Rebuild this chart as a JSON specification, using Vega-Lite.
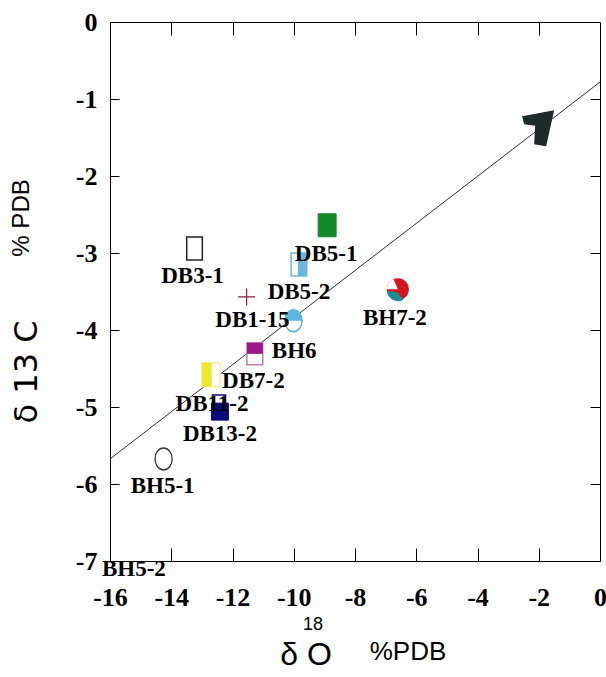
{
  "$schema": "https://vega.github.io/schema/vega-lite/v6.json",
  "width": 490,
  "height": 539,
  "autosize": "none",
  "padding": {"left": 110, "top": 22, "right": 6, "bottom": 116},
  "background": "white",
  "config": {"view": {"stroke": null}},
  "datasets": {
    "samples": [
      {"sample": "DB3-1", "d18O": -13.24, "d13C": -2.94},
      {"sample": "DB5-1", "d18O": -8.91, "d13C": -2.64},
      {"sample": "DB5-2", "d18O": -9.83, "d13C": -3.15},
      {"sample": "unlabelled", "d18O": -11.54, "d13C": -3.57},
      {"sample": "DB1-15", "d18O": -10.01, "d13C": -3.88},
      {"sample": "BH6", "d18O": -11.27, "d13C": -4.31},
      {"sample": "DB7-2", "d18O": -12.70, "d13C": -4.58},
      {"sample": "DB11-2", "d18O": -12.44, "d13C": -4.93},
      {"sample": "DB13-2", "d18O": -12.41, "d13C": -5.06},
      {"sample": "BH5-1", "d18O": -14.25, "d13C": -5.675},
      {"sample": "BH7-2", "d18O": -6.60, "d13C": -3.47},
      {"sample": "BH5-2", "d18O": -15.22, "d13C": -7.10}
    ],
    "trend": [
      {"d18O": -16, "d13C": -5.675},
      {"d18O": 0, "d13C": -0.78}
    ],
    "arrow": [
      {"d18O": -2.02, "d13C": -1.38}
    ]
  },
  "layer": [
    {
      "layer": [
        {
          "data": {"name": "trend"},
          "mark": {"type": "line", "color": "#333333", "strokeWidth": 1},
          "encoding": {
            "x": {"field": "d18O", "type": "quantitative", "scale": {"domain": [-16, 0], "nice": false, "zero": false},
              "axis": {"orient": "top", "values": [-14, -12, -10, -8, -6, -4, -2], "labels": false, "title": null, "grid": false, "tickSize": -13, "tickColor": "black", "domainColor": "black", "tickWidth": 1, "domainWidth": 1}},
            "y": {"field": "d13C", "type": "quantitative", "scale": {"domain": [-7, 0], "nice": false, "zero": false},
              "axis": {"orient": "right", "values": [-6, -5, -4, -3, -2, -1], "labels": false, "title": null, "grid": false, "tickSize": -10, "tickColor": "black", "domainColor": "black", "tickWidth": 1, "domainWidth": 1}}
          }
        },
        {
          "data": {"name": "arrow"},
          "mark": {"type": "point", "shape": "M-0.8,-0.6L0.8,-0.9L0.4,0.9L-0.2,0.8L-0.15,-0.12L-0.7,-0.2Z", "size": 1600, "filled": true, "fill": "#1d2b2b", "strokeWidth": 0, "opacity": 1},
          "encoding": {
            "x": {"field": "d18O", "type": "quantitative"},
            "y": {"field": "d13C", "type": "quantitative"}
          }
        },
        {
          "data": {"values": [{}]},
          "mark": {"type": "text", "text": "δ O", "font": "Liberation Sans", "fontSize": 32, "color": "black", "align": "center", "baseline": "middle"},
          "encoding": {"x": {"datum": -9.6, "type": "quantitative"}, "y": {"datum": -8.22, "type": "quantitative"}}
        },
        {
          "data": {"values": [{}]},
          "mark": {"type": "text", "text": "18", "font": "Liberation Sans", "fontSize": 18, "color": "black", "align": "center", "baseline": "middle"},
          "encoding": {"x": {"datum": -9.37, "type": "quantitative"}, "y": {"datum": -7.83, "type": "quantitative"}}
        },
        {
          "data": {"values": [{}]},
          "mark": {"type": "text", "text": "%PDB", "font": "Liberation Sans", "fontSize": 26, "color": "black", "align": "center", "baseline": "middle"},
          "encoding": {"x": {"datum": -6.27, "type": "quantitative"}, "y": {"datum": -8.18, "type": "quantitative"}}
        },
        {
          "data": {"values": [{}]},
          "mark": {"type": "text", "text": "δ 13 C", "font": "DejaVu Sans", "fontSize": 32, "color": "black", "align": "center", "baseline": "middle", "angle": 270},
          "encoding": {"x": {"datum": -18.71, "type": "quantitative"}, "y": {"datum": -4.545, "type": "quantitative"}}
        },
        {
          "data": {"values": [{}]},
          "mark": {"type": "text", "text": "% PDB", "font": "Liberation Sans", "fontSize": 24, "color": "black", "align": "center", "baseline": "middle", "angle": 270},
          "encoding": {"x": {"datum": -18.87, "type": "quantitative"}, "y": {"datum": -2.545, "type": "quantitative"}}
        }
      ]
    },
    {
      "data": {"name": "samples"},
      "encoding": {
        "x": {"field": "d18O", "type": "quantitative", "scale": {"domain": [-16, 0], "nice": false, "zero": false},
          "axis": {"orient": "bottom", "values": [-16, -14, -12, -10, -8, -6, -4, -2, 0], "title": null, "grid": false, "tickSize": -13, "tickColor": "black", "domainColor": "black", "tickWidth": 1, "domainWidth": 1, "labelFont": "Liberation Serif", "labelFontWeight": "bold", "labelFontSize": 26, "labelColor": "black", "labelPadding": 36, "labelFlush": false, "labelOverlap": false, "labelExpr": "toString(datum.value)"}},
        "y": {"field": "d13C", "type": "quantitative", "scale": {"domain": [-7, 0], "nice": false, "zero": false},
          "axis": {"orient": "left", "values": [-7, -6, -5, -4, -3, -2, -1, 0], "title": null, "grid": false, "tickSize": -9, "tickColor": "black", "domainColor": "black", "tickWidth": 1, "domainWidth": 1, "labelFont": "Liberation Serif", "labelFontWeight": "bold", "labelFontSize": 26, "labelColor": "black", "labelPadding": 22, "labelFlush": false, "labelOverlap": false, "labelExpr": "toString(datum.value)"}}
      },
      "layer": [
        {"transform": [{"filter": "datum.sample === 'DB3-1'"}],
         "mark": {"type": "point", "shape": "M-0.68,-1H0.68V1H-0.68Z", "size": 529, "filled": true, "fill": "white", "stroke": "#222222", "strokeWidth": 1.5, "opacity": 1}},
        {"transform": [{"filter": "datum.sample === 'DB5-1'"}],
         "mark": {"type": "point", "shape": "M-0.78,-1H0.78V1H-0.78Z", "size": 529, "filled": true, "fill": "#13892a", "stroke": "#13892a", "strokeWidth": 1, "opacity": 1}},
        {"transform": [{"filter": "datum.sample === 'DB5-2'"}],
         "mark": {"type": "point", "shape": "M-0.68,-1H0.68V1H-0.68Z", "size": 529, "filled": true, "fill": "white", "stroke": "#6bb8dc", "strokeWidth": 1.5, "opacity": 1}},
        {"transform": [{"filter": "datum.sample === 'DB5-2'"}],
         "mark": {"type": "point", "shape": "M-0.1,-1H0.68V1H-0.1Z", "size": 529, "filled": true, "fill": "#6bb8dc", "strokeWidth": 0, "opacity": 1}},
        {"transform": [{"filter": "datum.sample === 'unlabelled'"}],
         "mark": {"type": "point", "shape": "M-1,0H1M0,-1V1", "size": 289, "filled": false, "stroke": "#8a2040", "strokeWidth": 1.2, "opacity": 1}},
        {"transform": [{"filter": "datum.sample === 'DB1-15'"}],
         "mark": {"type": "point", "shape": "M0,-1A0.78,1,0,1,1,0,1A0.78,1,0,1,1,0,-1Z", "size": 484, "filled": true, "fill": "white", "stroke": "#5ab6dc", "strokeWidth": 1.5, "opacity": 1}},
        {"transform": [{"filter": "datum.sample === 'DB1-15'"}],
         "mark": {"type": "point", "shape": "M-0.78,0A0.78,1,0,0,1,0.78,0Z", "size": 484, "filled": true, "fill": "#5ab6dc", "strokeWidth": 0, "opacity": 1}},
        {"transform": [{"filter": "datum.sample === 'BH6'"}],
         "mark": {"type": "point", "shape": "M-0.72,-1H0.72V1H-0.72Z", "size": 484, "filled": true, "fill": "white", "stroke": "#c77bc0", "strokeWidth": 1.5, "opacity": 1}},
        {"transform": [{"filter": "datum.sample === 'BH6'"}],
         "mark": {"type": "point", "shape": "M-0.72,-1H0.72V0H-0.72Z", "size": 484, "filled": true, "fill": "#99198a", "strokeWidth": 0, "opacity": 1}},
        {"transform": [{"filter": "datum.sample === 'DB7-2'"}],
         "mark": {"type": "point", "shape": "M-0.75,-1H0.75V1H-0.75Z", "size": 576, "filled": true, "fill": "white", "stroke": "#f3efa0", "strokeWidth": 1.5, "opacity": 1}},
        {"transform": [{"filter": "datum.sample === 'DB7-2'"}],
         "mark": {"type": "point", "shape": "M-0.75,-1H0.05V1H-0.75Z", "size": 576, "filled": true, "fill": "#ece82a", "strokeWidth": 0, "opacity": 1}},
        {"transform": [{"filter": "datum.sample === 'DB11-2'"}],
         "mark": {"type": "point", "shape": "M-1,-1H1V1H-1Z", "size": 169, "filled": true, "fill": "white", "stroke": "#0b0b7d", "strokeWidth": 1.5, "opacity": 1}},
        {"transform": [{"filter": "datum.sample === 'DB13-2'"}],
         "mark": {"type": "point", "shape": "M-1,-1H1V1H-1Z", "size": 289, "filled": true, "fill": "#0b0b7d", "stroke": "#0b0b7d", "strokeWidth": 1, "opacity": 1}},
        {"transform": [{"filter": "datum.sample === 'BH5-1'"}],
         "mark": {"type": "point", "shape": "M0,-1A0.78,1,0,1,1,0,1A0.78,1,0,1,1,0,-1Z", "size": 484, "filled": true, "fill": "white", "stroke": "#333333", "strokeWidth": 1.3, "opacity": 1}},
        {"transform": [{"filter": "datum.sample === 'BH7-2'"}],
         "mark": {"type": "point", "shape": "M1,0A1,1,0,1,1,-1,0A1,1,0,1,1,1,0Z", "size": 484, "filled": true, "fill": "#d4151d", "strokeWidth": 0, "opacity": 1}},
        {"transform": [{"filter": "datum.sample === 'BH7-2'"}],
         "mark": {"type": "point", "shape": "M0,0L-1,0A1,1,0,0,1,-0.4,-0.92Z", "size": 484, "filled": true, "fill": "white", "strokeWidth": 0, "opacity": 1}},
        {"transform": [{"filter": "datum.sample === 'BH7-2'"}],
         "mark": {"type": "point", "shape": "M-1,0.15A1,1,0,0,0,0.5,0.95L0,0.3Z", "size": 484, "filled": true, "fill": "#1e8a92", "strokeWidth": 0, "opacity": 1}},
        {"transform": [{"filter": "datum.sample === 'DB3-1'"}],
         "mark": {"type": "text", "font": "Liberation Serif", "fontWeight": "bold", "fontSize": 23, "color": "black", "align": "center", "baseline": "middle", "dx": -2, "dy": 28},
         "encoding": {"text": {"field": "sample"}}},
        {"transform": [{"filter": "datum.sample === 'DB5-1'"}],
         "mark": {"type": "text", "font": "Liberation Serif", "fontWeight": "bold", "fontSize": 23, "color": "black", "align": "center", "baseline": "middle", "dx": -1, "dy": 29},
         "encoding": {"text": {"field": "sample"}}},
        {"transform": [{"filter": "datum.sample === 'DB5-2'"}],
         "mark": {"type": "text", "font": "Liberation Serif", "fontWeight": "bold", "fontSize": 23, "color": "black", "align": "center", "baseline": "middle", "dx": 0, "dy": 27},
         "encoding": {"text": {"field": "sample"}}},
        {"transform": [{"filter": "datum.sample === 'DB1-15'"}],
         "mark": {"type": "text", "font": "Liberation Serif", "fontWeight": "bold", "fontSize": 23, "color": "black", "align": "right", "baseline": "middle", "dx": -4, "dy": -1},
         "encoding": {"text": {"field": "sample"}}},
        {"transform": [{"filter": "datum.sample === 'BH6'"}],
         "mark": {"type": "text", "font": "Liberation Serif", "fontWeight": "bold", "fontSize": 23, "color": "black", "align": "left", "baseline": "middle", "dx": 17, "dy": -3},
         "encoding": {"text": {"field": "sample"}}},
        {"transform": [{"filter": "datum.sample === 'DB7-2'"}],
         "mark": {"type": "text", "font": "Liberation Serif", "fontWeight": "bold", "fontSize": 23, "color": "black", "align": "left", "baseline": "middle", "dx": 11, "dy": 6},
         "encoding": {"text": {"field": "sample"}}},
        {"transform": [{"filter": "datum.sample === 'DB11-2'"}],
         "mark": {"type": "text", "font": "Liberation Serif", "fontWeight": "bold", "fontSize": 23, "color": "black", "align": "center", "baseline": "middle", "dx": -7, "dy": 2},
         "encoding": {"text": {"field": "sample"}}},
        {"transform": [{"filter": "datum.sample === 'DB13-2'"}],
         "mark": {"type": "text", "font": "Liberation Serif", "fontWeight": "bold", "fontSize": 23, "color": "black", "align": "center", "baseline": "middle", "dx": 0, "dy": 22},
         "encoding": {"text": {"field": "sample"}}},
        {"transform": [{"filter": "datum.sample === 'BH5-1'"}],
         "mark": {"type": "text", "font": "Liberation Serif", "fontWeight": "bold", "fontSize": 23, "color": "black", "align": "center", "baseline": "middle", "dx": -1, "dy": 27},
         "encoding": {"text": {"field": "sample"}}},
        {"transform": [{"filter": "datum.sample === 'BH7-2'"}],
         "mark": {"type": "text", "font": "Liberation Serif", "fontWeight": "bold", "fontSize": 23, "color": "black", "align": "center", "baseline": "middle", "dx": -3, "dy": 29},
         "encoding": {"text": {"field": "sample"}}},
        {"transform": [{"filter": "datum.sample === 'BH5-2'"}],
         "mark": {"type": "text", "font": "Liberation Serif", "fontWeight": "bold", "fontSize": 23, "color": "black", "align": "center", "baseline": "middle", "dx": 0, "dy": 0},
         "encoding": {"text": {"field": "sample"}}}
      ]
    }
  ],
  "resolve": {"axis": {"x": "independent", "y": "independent"}}
}
